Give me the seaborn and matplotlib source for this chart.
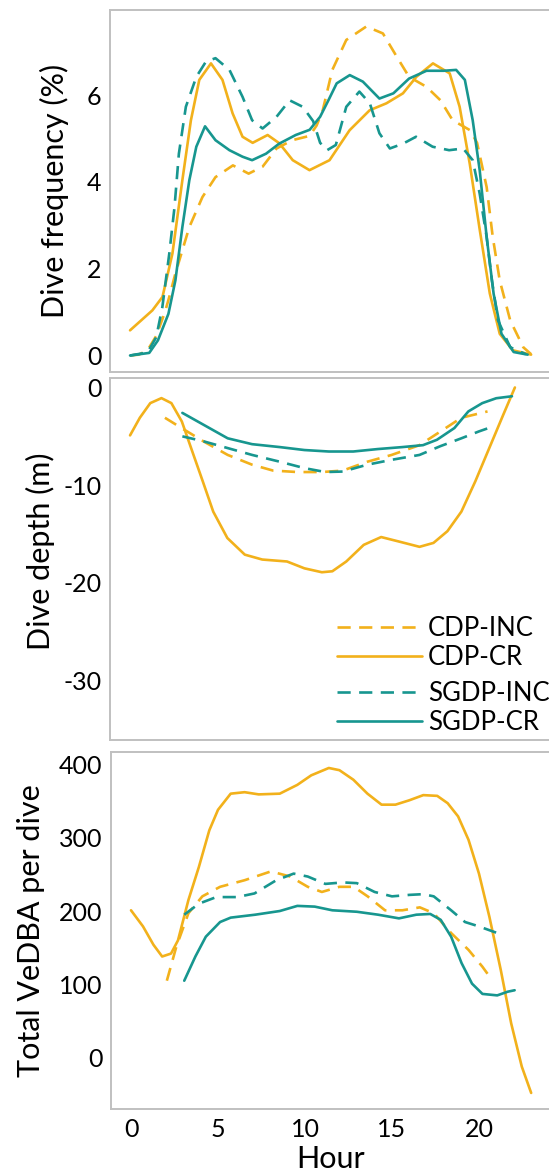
import matplotlib
matplotlib.use("Agg")
import matplotlib.pyplot as plt
from matplotlib.lines import Line2D
import pandas as pd
import seaborn as sns

# ---- dados (hora, valor) ----
# Painel 1: frequência de mergulho (%)
freq_h_cdp_inc = [0, 0.5, 1.0, 1.5, 2.0, 2.25, 2.6, 3.4, 4.15, 4.9, 5.9, 6.8, 7.6, 8.4, 9.3, 10.3, 10.7, 11.05,
                  11.6, 12.4, 13.55, 14.5, 15.3, 16.0, 17.0, 17.8, 18.5, 19.5, 19.9, 20.45, 20.8, 21.2, 21.8, 22.55, 23]
freq_cdp_inc = [0.0, 0.02, 0.12, 0.45, 1.0, 1.35, 1.89, 2.96, 3.65, 4.11, 4.38, 4.19, 4.35, 4.77, 4.96, 5.06, 5.3, 5.65,
                6.58, 7.27, 7.58, 7.42, 6.88, 6.42, 6.19, 5.88, 5.42, 5.19, 4.9, 3.88, 2.73, 1.73, 0.81, 0.19, 0.03]
freq_h_cdp_cr = [0, 1.28, 1.86, 2.43, 3.0, 3.49, 3.97, 4.64, 5.3, 5.88, 6.45, 7.03, 7.89, 8.56, 9.33, 10.29, 11.44,
                 12.59, 13.74, 14.7, 15.65, 16.42, 17.37, 18.33, 18.9, 19.48, 20.06, 20.63, 21.2, 21.95, 23]
freq_cdp_cr = [0.58, 1.04, 1.35, 2.35, 4.04, 5.42, 6.35, 6.73, 6.35, 5.58, 5.04, 4.9, 5.08, 4.89, 4.5, 4.27, 4.5,
               5.19, 5.65, 5.81, 6.04, 6.42, 6.73, 6.5, 5.73, 4.42, 2.88, 1.43, 0.5, 0.12, 0.02]
freq_h_sgdp_inc = [0, 1.0, 1.5, 1.85, 2.25, 2.55, 2.8, 3.2, 3.8, 4.35, 4.9, 5.7, 6.45, 7.0, 7.6, 8.4, 9.15, 9.9,
                   10.5, 10.9, 11.3, 11.8, 12.4, 13.15, 13.75, 14.3, 14.9, 15.65, 16.4, 17.35, 18.3, 19.1, 19.65,
                   20.05, 20.45, 20.75, 21.1, 21.8, 22.7]
freq_sgdp_inc = [0.0, 0.07, 0.42, 1.11, 2.35, 3.42, 4.65, 5.73, 6.42, 6.77, 6.85, 6.58, 5.96, 5.42, 5.23, 5.5, 5.88,
                 5.73, 5.4, 4.9, 4.73, 4.85, 5.73, 6.08, 5.81, 5.12, 4.77, 4.88, 5.04, 4.81, 4.73, 4.77, 4.5, 3.73,
                 2.73, 1.73, 0.81, 0.19, 0.03]
freq_h_sgdp_cr = [0, 1.1, 1.6, 2.2, 2.6, 3.0, 3.4, 3.8, 4.3, 4.9, 5.7, 6.45, 7.0, 7.8, 8.55, 9.5, 10.3, 10.9, 11.4,
                  11.85, 12.6, 13.35, 14.3, 15.1, 16.0, 17.0, 18.0, 18.7, 19.2, 19.65, 20.05, 20.45, 20.85, 21.3,
                  22.0, 22.8]
freq_sgdp_cr = [0.0, 0.06, 0.35, 0.96, 1.73, 2.96, 4.04, 4.81, 5.28, 4.96, 4.73, 4.58, 4.5, 4.65, 4.88, 5.08, 5.2,
                5.5, 5.9, 6.27, 6.46, 6.31, 5.92, 6.04, 6.38, 6.56, 6.56, 6.58, 6.35, 5.42, 4.27, 2.73, 1.42, 0.5,
                0.08, 0.02]

# Painel 2: profundidade do mergulho (m)
prof_h_cdp_inc = [2.0, 3.0, 4.2, 5.6, 7.0, 8.2, 9.6, 11.0, 12.2, 13.6, 15.0, 16.6, 17.8, 19.0, 20.5]
prof_cdp_inc = [-3.1, -4.2, -5.5, -6.9, -7.9, -8.5, -8.65, -8.65, -8.5, -7.6, -6.9, -5.9, -4.5, -3.1, -2.45]
prof_h_cdp_cr = [0, 0.56, 1.16, 1.8, 2.37, 2.97, 3.57, 4.17, 4.77, 5.58, 6.58, 7.58, 9.0, 10.0, 11.0, 11.6, 12.4,
                 13.4, 14.4, 15.4, 16.6, 17.4, 18.2, 19.0, 19.8, 20.6, 21.4, 22.07]
prof_cdp_cr = [-4.9, -3.1, -1.6, -1.09, -1.6, -3.48, -6.55, -9.6, -12.7, -15.4, -17.1, -17.6, -17.8, -18.5, -18.9,
               -18.8, -17.8, -16.1, -15.3, -15.75, -16.3, -15.9, -14.7, -12.7, -9.6, -6.2, -2.8, 0.0]
prof_h_sgdp_inc = [3.0, 4.2, 5.6, 7.0, 8.6, 10.0, 11.2, 12.2, 13.6, 15.0, 16.6, 17.8, 19.0, 20.0, 20.8]
prof_sgdp_inc = [-5.0, -5.5, -6.2, -6.9, -7.6, -8.25, -8.65, -8.6, -7.9, -7.4, -6.9, -6.0, -5.2, -4.5, -4.0]
prof_h_sgdp_cr = [3.0, 4.2, 5.6, 7.0, 8.6, 10.0, 11.4, 12.8, 14.2, 15.6, 16.8, 17.6, 18.6, 19.4, 20.2, 21.0, 21.9]
prof_sgdp_cr = [-2.6, -3.8, -5.2, -5.8, -6.1, -6.4, -6.55, -6.55, -6.3, -6.1, -5.9, -5.35, -4.15, -2.45, -1.6,
                -1.1, -0.9]

# Painel 3: VeDBA total por mergulho
vedba_h_cdp_inc = [2.06, 2.6, 3.3, 4.1, 5.12, 6.53, 8.04, 9.15, 10.16, 10.97, 11.98, 12.8, 13.6, 14.6, 15.6, 16.6,
                   17.4, 18.4, 19.4, 20.2, 20.75]
vedba_cdp_inc = [105, 151, 197, 220, 233, 242, 254, 247, 233, 226, 233, 233, 220, 201, 201, 205, 197, 170, 147,
                 124, 106]
vedba_h_cdp_cr = [0, 0.69, 1.29, 1.79, 2.3, 2.7, 3.3, 3.9, 4.5, 5.0, 5.73, 6.53, 7.34, 8.55, 9.56, 10.36, 11.37,
                  11.98, 12.78, 13.59, 14.4, 15.2, 16.0, 16.8, 17.6, 18.2, 18.8, 19.4, 20.0, 20.6, 21.25, 21.85,
                  22.46, 23.0]
vedba_cdp_cr = [201, 179, 154, 138, 142, 160, 215, 260, 310, 338, 360, 362, 359, 360, 372, 385, 395, 392, 379, 360,
                345, 345, 351, 358, 357, 347, 329, 297, 251, 192, 120, 47, -12, -48]
vedba_h_sgdp_inc = [3.06, 3.9, 4.9, 6.1, 7.1, 8.35, 9.35, 10.16, 11.17, 12.18, 12.98, 14.0, 15.0, 16.0, 16.8, 17.4,
                    18.4, 19.2, 20.0, 21.05]
vedba_sgdp_inc = [195, 210, 219, 219, 224, 242, 251, 247, 237, 239, 238, 226, 220, 222, 223, 220, 201, 185, 179, 170]
vedba_h_sgdp_cr = [3.06, 3.7, 4.3, 5.12, 5.73, 7.14, 8.55, 9.56, 10.56, 11.57, 12.98, 14.2, 15.4, 16.4, 17.2, 17.8,
                   18.4, 19.0, 19.6, 20.2, 21.05, 21.65, 22.05]
vedba_sgdp_cr = [105, 138, 165, 185, 191, 195, 200, 207, 206, 201, 199, 195, 190, 195, 196, 188, 165, 129, 101, 87,
                 85, 90, 92]

GRUPOS = ["CDP-INC", "CDP-CR", "SGDP-INC", "SGDP-CR"]
OURO = "#F2B11B"
VERDE = "#17968F"
CORES = {"CDP-INC": OURO, "CDP-CR": OURO, "SGDP-INC": VERDE, "SGDP-CR": VERDE}
TRACO = (5, 3.2)
TRACOS = {"CDP-INC": TRACO, "CDP-CR": "", "SGDP-INC": TRACO, "SGDP-CR": ""}
LW = 1.9
FONTE_TICK = 18
FONTE_ROTULO = 22
FONTE_LEGENDA = 18.5

W, H = 549, 1171


def montar_df(series):
    """Junta as séries (grupo -> (horas, valores)) num DataFrame longo."""
    linhas = []
    for grupo, (horas, valores) in series.items():
        for h, v in zip(horas, valores):
            linhas.append({"Hour": h, "valor": v, "grupo": grupo})
    return pd.DataFrame(linhas)


def novo_eixo(fig, esq, topo, base, dir_=551):
    """Cria um eixo a partir de coordenadas em pixels (origem no topo)."""
    return fig.add_axes([esq / W, 1 - base / H, (dir_ - esq) / W, (base - topo) / H])


def estilo_eixo(ax, ylim, yticks, ylabel, label_x, label_y=0.5, mostrar_x=False):
    ax.set_xlim(-1.15, 24.14)
    ax.set_ylim(*ylim)
    ax.set_xticks([0, 5, 10, 15, 20])
    ax.set_yticks(yticks)
    ax.tick_params(axis="both", direction="out", length=3, width=1, color="#333333",
                   labelsize=FONTE_TICK, pad=3)
    if mostrar_x:
        ax.set_xlabel("Hour", fontsize=FONTE_ROTULO, labelpad=3)
    else:
        ax.set_xlabel("")
        ax.tick_params(axis="x", labelbottom=False)
    ax.set_ylabel(ylabel, fontsize=FONTE_ROTULO)
    ax.yaxis.set_label_coords(label_x, label_y)
    for lado in ["left", "bottom", "top"]:
        ax.spines[lado].set_color("#c0c0c0")
        ax.spines[lado].set_linewidth(1.4)
    ax.spines["right"].set_visible(False)


def desenhar(ax, df):
    sns.lineplot(data=df, x="Hour", y="valor", hue="grupo", style="grupo",
                 hue_order=GRUPOS, style_order=GRUPOS, palette=CORES, dashes=TRACOS,
                 estimator=None, lw=LW, legend=False, ax=ax)


sns.set_style("white")
plt.rcParams["font.family"] = ["Lato", "DejaVu Sans"]
plt.rcParams["axes.unicode_minus"] = False
plt.rcParams["text.color"] = "black"
plt.rcParams["axes.labelcolor"] = "black"
plt.rcParams["xtick.color"] = "black"
plt.rcParams["ytick.color"] = "black"

fig = plt.figure(figsize=(W / 100, H / 100), dpi=100)

df_freq = montar_df({
    "CDP-INC": (freq_h_cdp_inc, freq_cdp_inc),
    "CDP-CR": (freq_h_cdp_cr, freq_cdp_cr),
    "SGDP-INC": (freq_h_sgdp_inc, freq_sgdp_inc),
    "SGDP-CR": (freq_h_sgdp_cr, freq_sgdp_cr),
})
df_prof = montar_df({
    "CDP-INC": (prof_h_cdp_inc, prof_cdp_inc),
    "CDP-CR": (prof_h_cdp_cr, prof_cdp_cr),
    "SGDP-INC": (prof_h_sgdp_inc, prof_sgdp_inc),
    "SGDP-CR": (prof_h_sgdp_cr, prof_sgdp_cr),
})
df_vedba = montar_df({
    "CDP-INC": (vedba_h_cdp_inc, vedba_cdp_inc),
    "CDP-CR": (vedba_h_cdp_cr, vedba_cdp_cr),
    "SGDP-INC": (vedba_h_sgdp_inc, vedba_sgdp_inc),
    "SGDP-CR": (vedba_h_sgdp_cr, vedba_sgdp_cr),
})

ax1 = novo_eixo(fig, 110, 10, 372)
desenhar(ax1, df_freq)
estilo_eixo(ax1, (-0.38, 7.96), [0, 2, 4, 6], "Dive frequency (%)", -0.093)

ax2 = novo_eixo(fig, 110, 377.7, 740)
desenhar(ax2, df_prof)
estilo_eixo(ax2, (-36.06, 1.0), [0, -10, -20, -30], "Dive depth (m)", -0.125, 0.52)

ax3 = novo_eixo(fig, 111, 751.7, 1109.3)
desenhar(ax3, df_vedba)
estilo_eixo(ax3, (-70.3, 417.2), [0, 100, 200, 300, 400], "Total VeDBA per dive", -0.15,
            mostrar_x=True)


# legenda em dois blocos (CDP e SGDP), como no original
def bloco_legenda(ax, grupos, topo_px):
    handles = [Line2D([], [], color=CORES[g], lw=LW,
                      dashes=TRACOS[g] if TRACOS[g] else (None, None)) for g in grupos]
    leg = ax.legend(handles, grupos, loc="upper left", bbox_to_anchor=(337 / W, 1 - topo_px / H),
                    bbox_transform=fig.transFigure, frameon=False, borderpad=0, borderaxespad=0,
                    handlelength=3.3, handletextpad=0.23, labelspacing=0.15, fontsize=FONTE_LEGENDA)
    return leg


leg1 = bloco_legenda(ax2, ["CDP-INC", "CDP-CR"], 616)
ax2.add_artist(leg1)
bloco_legenda(ax2, ["SGDP-INC", "SGDP-CR"], 681)

fig.savefig("out.png", dpi=100)
